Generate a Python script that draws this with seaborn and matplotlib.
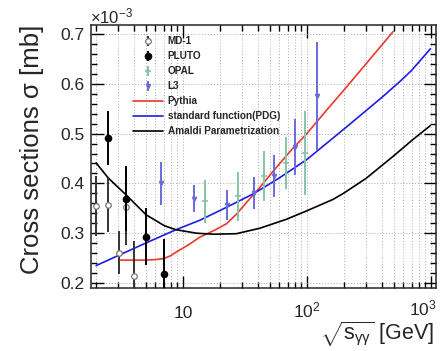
import numpy as np
import pandas as pd
import matplotlib
matplotlib.use("Agg")
import matplotlib.pyplot as plt
import seaborn as sns
from matplotlib.ticker import FixedLocator, NullFormatter, MultipleLocator, LogLocator, FormatStrFormatter
from matplotlib.transforms import ScaledTranslation

# ---------------- data (sigma in units of 1e-3 mb) ----------------
md1_x = [2.0, 2.5, 3.05, 3.5, 4.0]
md1_y = [0.354, 0.357, 0.261, 0.352, 0.215]
md1_err = [0.060, 0.054, 0.043, 0.075, 0.070]

pluto_x = [2.5, 3.5, 5.0, 7.0]
pluto_y = [0.491, 0.369, 0.293, 0.218]
pluto_err = [0.055, 0.065, 0.057, 0.070]

opal_x = [15.0, 27.6, 45.0, 68.5, 96.4]
opal_y = [0.364, 0.374, 0.415, 0.441, 0.461]
opal_err = [0.043, 0.049, 0.051, 0.053, 0.085]

l3_x = [6.7, 12.3, 22.5, 37.6, 54.5, 80.0, 120.0]
l3_y = [0.400, 0.369, 0.357, 0.380, 0.415, 0.473, 0.576]
l3_err = [0.043, 0.027, 0.030, 0.032, 0.042, 0.057, 0.108]

pythia_x = [3.05, 4.0, 5.0, 6.0, 7.0, 8.0, 8.8, 11.0, 13.7, 18.0, 22.5, 27.0,
            32.7, 37.6, 41.8, 54.5, 75.0, 100.0, 150.0, 200.0, 300.0, 497.0]
pythia_y = [0.246, 0.246, 0.246, 0.247, 0.249, 0.255, 0.262, 0.276, 0.292, 0.306,
            0.319, 0.338, 0.362, 0.379, 0.392, 0.427, 0.467, 0.500, 0.552, 0.588,
            0.640, 0.705]

pdg_x = [2.0, 3.0, 5.0, 8.8, 13.7, 22.5, 37.6, 60.0, 100.0, 186.0, 300.0, 400.0,
         565.0, 700.0, 990.0]
pdg_y = [0.235, 0.255, 0.280, 0.307, 0.326, 0.352, 0.380, 0.411, 0.448, 0.503,
         0.546, 0.572, 0.605, 0.627, 0.670]

amaldi_x = [2.0, 2.5, 3.55, 5.05, 7.1, 8.8, 12.9, 17.6, 27.0, 41.8, 68.5, 100.0,
            163.0, 200.0, 300.0, 500.0, 700.0, 990.0]
amaldi_y = [0.441, 0.411, 0.375, 0.337, 0.315, 0.307, 0.300, 0.298, 0.299, 0.310,
            0.328, 0.345, 0.368, 0.381, 0.410, 0.455, 0.486, 0.516]

x_ticks = [10, 100, 1000]
x_ticklabels = ["10", r"$10^{2}$", r"$10^{3}$"]
y_ticks = [0.2, 0.3, 0.4, 0.5, 0.6, 0.7]

# ---------------- style ----------------
sns.set_style("ticks")
plt.rcParams["font.family"] = ["Liberation Sans", "DejaVu Sans"]
plt.rcParams["mathtext.fontset"] = "custom"
plt.rcParams["mathtext.rm"] = "Liberation Sans"
plt.rcParams["mathtext.it"] = "Liberation Sans:italic"
plt.rcParams["mathtext.bf"] = "Liberation Sans:bold"
plt.rcParams["axes.linewidth"] = 1.1

W, H = 445, 351
fig = plt.figure(figsize=(W / 100, H / 100), dpi=100)
L, R, T, B = 90.5, 436, 25, 288
ax = fig.add_axes([L / W, 1 - B / H, (R - L) / W, (B - T) / H])
ax.set_facecolor("white")

ax.set_xscale("log")
ax.set_xlim(1.8, 1100)
ax.set_ylim(0.19, 0.718)

# grid
ax.xaxis.set_major_locator(FixedLocator(x_ticks))
ax.xaxis.set_minor_locator(LogLocator(base=10, subs=np.arange(2, 10)))
ax.xaxis.set_minor_formatter(NullFormatter())
ax.set_xticklabels(x_ticklabels)
ax.yaxis.set_major_locator(FixedLocator(y_ticks))
ax.yaxis.set_minor_locator(MultipleLocator(0.02))
ax.yaxis.set_major_formatter(FormatStrFormatter("%.1f"))
ax.grid(True, which="both", axis="x", ls=(0, (1, 2)), color="#aaaaaa", lw=0.7)
ax.grid(True, which="major", axis="y", ls=(0, (1, 2)), color="#aaaaaa", lw=0.7)
ax.set_axisbelow(True)

# curves
sns.lineplot(x=pythia_x, y=pythia_y, ax=ax, color="#e8392b", lw=1.2,
             sort=False, estimator=None, label="Pythia", zorder=3)
sns.lineplot(x=pdg_x, y=pdg_y, ax=ax, color="#1c1ce8", lw=1.2,
             sort=False, estimator=None, label="standard function(PDG)", zorder=3)
sns.lineplot(x=amaldi_x, y=amaldi_y, ax=ax, color="black", lw=1.2,
             sort=False, estimator=None, label="Amaldi Parametrization", zorder=3)

# data points
ax.errorbar(md1_x, md1_y, yerr=md1_err, fmt="o", ms=4, mfc="white",
            mec="#777777", mew=0.9, ecolor="#333333", elinewidth=1.4,
            capsize=0, label="MD-1", zorder=4)
ax.errorbar(pluto_x, pluto_y, yerr=pluto_err, fmt="o", ms=4.5,
            color="black", elinewidth=1.4, capsize=0, label="PLUTO", zorder=5)
ax.errorbar(opal_x, opal_y, yerr=opal_err, fmt="_", ms=5, mew=1.2,
            color="#86c4a4", elinewidth=1.4, capsize=0, label="OPAL", zorder=4)
ax.errorbar(l3_x, l3_y, yerr=l3_err, fmt="v", ms=3,
            color="#6a6adc", elinewidth=1.4, capsize=0, label="L3", zorder=4)

# ticks
ax.tick_params(which="both", direction="in", top=True, right=True, width=1.0,
               color="black")
ax.tick_params(which="major", length=9)
ax.tick_params(which="minor", length=4.5)
ax.tick_params(axis="y", labelsize=12.5, pad=4.5)
ax.tick_params(axis="x", labelsize=12.5, pad=21.5)
for lbl in ax.get_xticklabels():
    lbl.set_va("baseline")
xl = ax.get_xticklabels()
xl[-1].set_transform(xl[-1].get_transform() + ScaledTranslation(-0.08, 0.025, fig.dpi_scale_trans))

# axis titles
ax.set_ylabel("Cross sections σ [mb]", fontsize=18.5, loc="top")
ax.yaxis.set_label_coords((32 - L) / (R - L), 1.0)
ax.yaxis.label.set_va("center")
ax.set_xlabel(r"$\sqrt{\mathrm{s}_{\mathrm{γγ}}}$ [GeV]", fontsize=15.5, loc="right")
ax.xaxis.set_label_coords((434 - L) / (R - L), (B - 320) / (B - T))
ax.xaxis.label.set_va("top")

fig.text(L / W, 1 - 23.5 / H, r"$\times10^{-3}$", fontsize=12, ha="left", va="baseline")

# legend
handles, labels = ax.get_legend_handles_labels()
order = ["MD-1", "PLUTO", "OPAL", "L3", "Pythia", "standard function(PDG)",
         "Amaldi Parametrization"]
hd = dict(zip(labels, handles))
leg = ax.legend([hd[k] for k in order], order, loc="upper left",
                bbox_to_anchor=((133 - L) / (R - L), (B - 36) / (B - T)),
                frameon=False, borderpad=0, borderaxespad=0, handlelength=3.0,
                handletextpad=0.48, labelspacing=0.5,
                prop={"weight": "bold", "size": 7.2})

fig.savefig("out.png", dpi=100, facecolor="white")
